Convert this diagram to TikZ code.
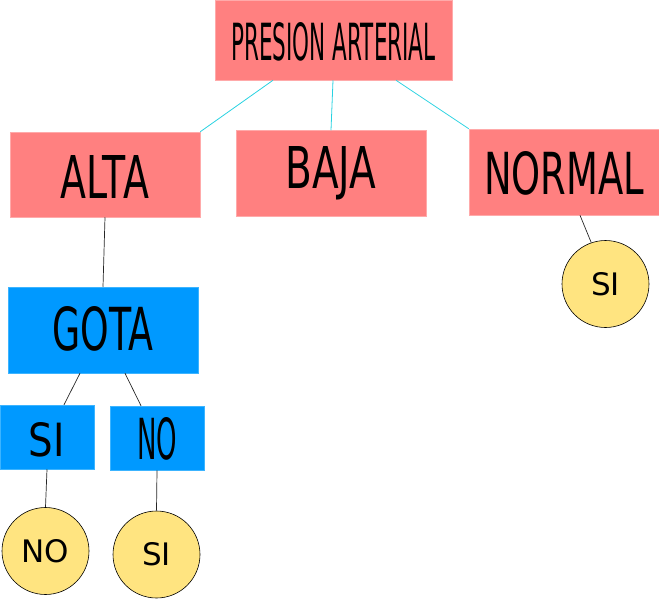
\documentclass[tikz,border=0pt]{standalone}
\usepackage{fontspec}
\usepackage{graphicx}
\setmainfont{DejaVu Sans}
\definecolor{salmon}{RGB}{255,128,128}
\definecolor{salmonedge}{RGB}{255,170,170}
\definecolor{bluebox}{RGB}{0,153,255}
\definecolor{blueedge}{RGB}{60,180,255}
\definecolor{yelc}{RGB}{255,228,128}
\definecolor{cyanline}{RGB}{40,210,225}
\newcommand\ftxt[4]{\raisebox{#4}[\height][\depth]{\resizebox{#1pt}{#2pt}{\fontsize{40}{40}\selectfont #3}}}
\tikzset{
  redbox/.style={fill=salmon, draw=salmonedge, line width=0.5pt, inner sep=0pt, minimum width=#1},
  bluebx/.style={fill=bluebox, draw=blueedge, line width=0.5pt, inner sep=0pt},
  leaf/.style={circle, fill=yelc, draw=black, line width=0.6pt, minimum size=87pt, inner sep=0pt, font=\fontsize{31}{31}\selectfont},
  cyl/.style={draw=cyanline, line width=0.8pt},
  bkl/.style={draw=black!85, line width=0.7pt},
}
\begin{document}
\begin{tikzpicture}[x=1pt,y=-1pt]
\useasboundingbox (0,0) rectangle (659,600);
% top level
\node[redbox=237pt, minimum height=80pt] (pa) at (333.5,40) {\ftxt{204}{38}{PRESION ARTERIAL}{-2pt}};
\node[redbox=190pt, minimum height=85pt] (alta) at (105,174.5) {\ftxt{88}{43}{ALTA}{-2pt}};
\node[redbox=190pt, minimum height=86pt] (baja) at (331,173.5) {\ftxt{91}{42}{BAJA}{0pt}};
\node[redbox=190pt, minimum height=86pt] (normal) at (564,172) {\ftxt{160}{43}{NORMAL}{-1.5pt}};
% gota branch
\node[bluebx, minimum width=190pt, minimum height=86pt] (gota) at (103,330) {\ftxt{101}{44}{GOTA}{1pt}};
\node[bluebx, minimum width=94pt, minimum height=64pt] (si1) at (47,437) {\ftxt{36}{34}{SI}{-3pt}};
\node[bluebx, minimum width=94pt, minimum height=64pt] (no1) at (157,438) {\ftxt{40}{42}{NO}{-1pt}};
% leaves
\node[leaf] (c1) at (45.5,551) {NO};
\node[leaf] (c2) at (156.5,554.5) {SI};
\node[leaf] (c3) at (605.5,284) {SI};
% connectors
\draw[cyl] ([xshift=-60.5pt]pa.south) -- (alta.north east);
\draw[cyl] ([xshift=-0.5pt]pa.south) -- (baja.north);
\draw[cyl] ([xshift=62.5pt]pa.south) -- (normal.north west);
\draw[bkl] (alta.south) -- (gota.north);
\draw[bkl] ([xshift=-23pt]gota.south) -- ([xshift=17pt]si1.north);
\draw[bkl] ([xshift=22pt]gota.south) -- ([xshift=-16pt]no1.north);
\draw[bkl] (si1.south) -- (c1.north);
\draw[bkl] (no1.south) -- (c2.north);
\draw[bkl] ([xshift=16pt]normal.south) -- (c3.109);
\end{tikzpicture}
\end{document}
